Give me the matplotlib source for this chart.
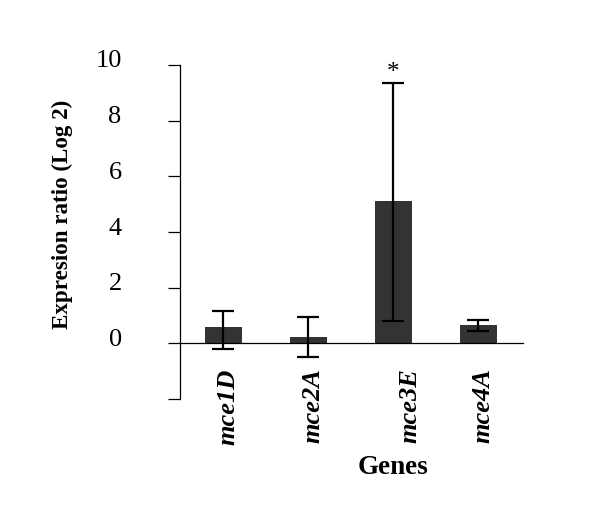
import matplotlib
matplotlib.use("Agg")
import matplotlib.pyplot as plt
import matplotlib.transforms as mtransforms
import numpy as np

plt.rcParams['font.family'] = ['Liberation Serif', 'DejaVu Serif']

genes = ["mce1D", "mce2A", "mce3E", "mce4A"]
ratio = [0.58, 0.22, 5.1, 0.65]
err_low = [0.8, 0.7, 4.3, 0.2]
err_high = [0.6, 0.72, 4.25, 0.18]
yticks = [-2, 0, 2, 4, 6, 8, 10]
ytick_labels = ["", "0", "2", "4", "6", "8", "10"]

fig = plt.figure(figsize=(6, 5.15), dpi=100)
ax = fig.add_axes([0.3, 0.2252, 0.572, 0.6486])

x = np.arange(len(genes))
ax.bar(x, ratio, width=0.435, color="#333333", zorder=2)
ax.errorbar(x, ratio, yerr=[err_low, err_high], fmt="none", ecolor="black",
            elinewidth=1.6, capsize=8, capthick=1.6, zorder=3)

# significance mark
ax.text(x[2], ratio[2] + err_high[2] - 0.05, "*", ha="center", va="bottom",
        fontsize=18)

ax.set_xlim(-0.506, 3.53)
ax.set_ylim(-2, 10)
ax.spines["top"].set_visible(False)
ax.spines["right"].set_visible(False)
ax.spines["bottom"].set_position(("data", 0))
ax.spines["left"].set_linewidth(0.9)
ax.spines["bottom"].set_linewidth(0.9)

ax.set_yticks(yticks)
ax.set_yticklabels(ytick_labels, fontsize=19)
ax.tick_params(axis="y", direction="out", length=9, width=0.9, pad=33)
offset = mtransforms.ScaledTranslation(0, 6 / 100, fig.dpi_scale_trans)
for lab in ax.get_yticklabels():
    lab.set_transform(lab.get_transform() + offset)

ax.set_xticks([])
label_x = [0.06, 0.06, 0.2, 0.06]
for xi, g, dx in zip(x, genes, label_x):
    ax.text(xi + dx, -0.9, g, rotation=90, ha="center", va="top",
            fontsize=19, fontweight="bold", fontstyle="italic")

fig.text(393 / 600, 1 - 468 / 515, "Genes", ha="center", va="center",
         fontsize=19.5, fontweight="bold")
fig.text(62 / 600, 1 - 214 / 515, "Expresion ratio (Log 2)", rotation=90,
         ha="center", va="center", fontsize=16.6, fontweight="bold")

fig.savefig("out.png", dpi=100)
